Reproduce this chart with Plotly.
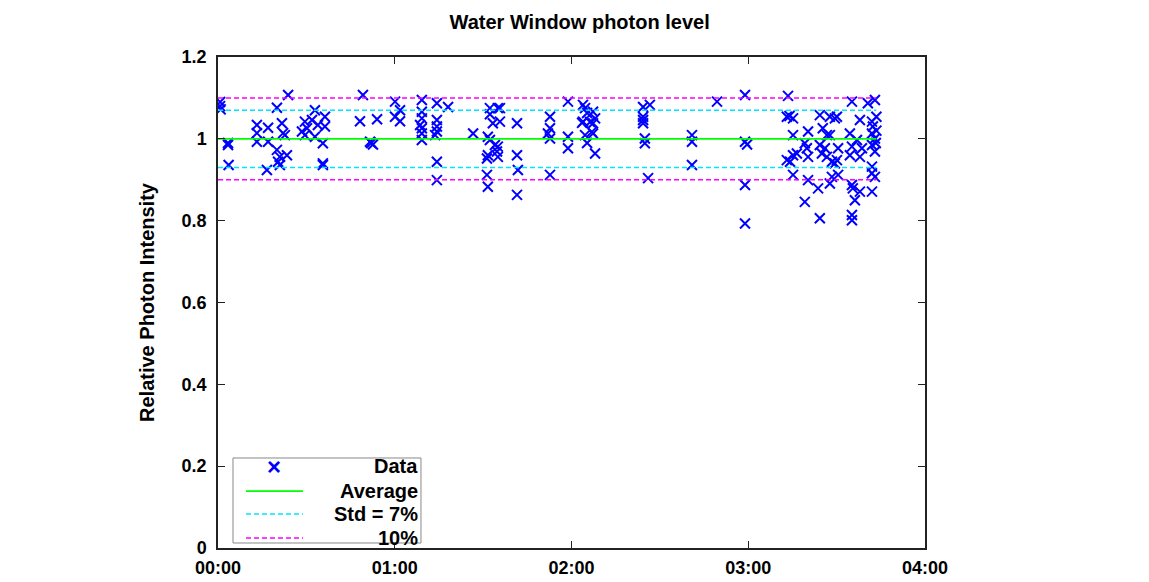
import plotly.graph_objects as go

# time in minutes since 00:00, relative photon intensity
times = [
    0.7, 0.7, 0.9, 3.4, 3.4, 3.6, 13.2, 13.2, 13.2, 17.0, 17.0, 16.6, 20.0, 20.0, 20.4,
    21.0, 21.0, 21.7, 22.1, 22.7, 23.4, 23.8, 28.5, 29.5, 29.5, 30.2, 31.9, 32.9, 32.9,
    33.9, 35.6, 35.6, 35.6, 36.3, 36.3,
    48.2, 49.2, 51.6, 52.6, 52.0, 54.0, 60.1, 60.1, 61.8, 61.8,
    69.2, 69.2, 69.2, 68.6, 69.2, 69.2, 69.2, 74.3, 78.1, 74.3, 74.3, 74.3, 73.7, 74.3, 74.3,
    86.6, 92.3, 92.3, 95.0, 95.7, 93.3, 95.7, 91.6, 92.3, 94.0, 95.0, 91.6, 91.3, 94.7, 95.0,
    91.3, 91.6, 101.5, 101.5, 101.8, 101.5, 112.7, 112.7, 112.0, 112.7, 112.7,
    118.8, 118.8, 118.8, 123.9, 124.6, 123.9, 124.6, 125.3, 127.3, 128.0, 126.3, 127.3,
    127.3, 125.3, 128.0, 123.6, 126.9,
    144.3, 146.6, 144.3, 144.3, 144.3, 144.9, 144.9, 146.0, 160.9, 160.9, 160.9, 169.4,
    178.9, 178.9, 179.6, 178.9, 178.9,
    193.1, 193.5, 193.1, 194.0, 195.2, 204.3, 207.7, 209.4, 195.2, 200.3, 205.3, 206.7, 207.7,
    199.2, 199.9, 204.3, 206.0, 195.2, 194.2, 196.5, 200.3, 205.0, 206.7, 208.4, 209.4,
    195.2, 200.3, 203.7, 207.7, 208.4, 199.2, 204.3,
    215.2, 220.6, 223.0, 210.1, 217.9, 222.0, 222.3, 214.5, 216.9, 222.0, 223.0,
    210.5, 215.2, 218.6, 222.0, 214.5, 217.9, 223.0, 210.1, 222.0, 222.0, 223.0, 210.5,
    215.2, 215.5, 217.9, 222.0, 216.2, 215.2, 215.2, 223.5, 223.5, 223.3,
]
values = [
    1.090, 1.080, 1.072, 0.990, 0.985, 0.936, 1.034, 1.014, 0.993, 1.027, 0.993, 0.924, 1.076, 0.973, 0.944,
    0.956, 0.936, 1.038, 1.014, 1.009, 0.960, 1.107, 1.018, 1.042, 1.009, 1.026, 1.046, 1.070, 1.005,
    1.034, 0.989, 0.940, 0.936, 1.054, 1.030,
    1.043, 1.107, 0.993, 0.986, 0.990, 1.048, 1.091, 1.054, 1.070, 1.043,
    1.095, 1.066, 1.050, 1.034, 1.026, 1.013, 0.997, 1.087, 1.078, 1.046, 1.030, 1.018, 1.009, 0.944, 0.899,
    1.013, 1.075, 1.060, 1.075, 1.075, 1.038, 1.042, 1.005, 0.997, 0.985, 0.981, 0.960, 0.952, 0.969, 0.956,
    0.912, 0.883, 1.038, 0.960, 0.924, 0.863, 1.054, 1.026, 1.013, 1.001, 0.912,
    1.091, 1.005, 0.977, 1.083, 1.075, 1.042, 1.009, 1.063, 1.066, 1.050, 1.041, 1.038,
    1.013, 0.990, 0.964, 1.039, 1.017,
    1.078, 1.083, 1.054, 1.046, 1.038, 1.001, 0.989, 0.904, 1.009, 0.993, 0.936, 1.091,
    1.107, 0.993, 0.986, 0.887, 0.793,
    1.054, 1.105, 0.948, 1.056, 1.050, 1.058, 1.054, 1.050, 1.009, 1.018, 1.026, 1.009, 1.009,
    0.989, 0.977, 0.985, 0.977, 0.960, 0.944, 0.964, 0.956, 0.964, 0.956, 0.944, 0.940,
    0.912, 0.899, 0.879, 0.891, 0.907, 0.846, 0.806,
    1.091, 1.087, 1.095, 1.054, 1.046, 1.042, 1.030, 1.013, 0.997, 1.013, 1.001,
    0.977, 0.981, 0.977, 0.985, 0.960, 0.956, 0.969, 0.948, 0.932, 0.916, 0.907, 0.912,
    0.887, 0.879, 0.871, 0.871, 0.850, 0.814, 0.801, 1.054, 1.020, 0.990,
]

average = 1.0
std_frac = 0.07
band_frac = 0.10
line_start = 0.0
line_end = max(times)

tick_minutes = [0, 60, 120, 180, 240]
tick_labels = ["00:00", "01:00", "02:00", "03:00", "04:00"]
y_ticks = [0, 0.2, 0.4, 0.6, 0.8, 1.0, 1.2]
y_tick_labels = ["0", "0.2", "0.4", "0.6", "0.8", "1", "1.2"]

legend_labels = ["Data", "Average", "Std = 7%", "10%"]

FONT = "Liberation Sans, Arial, sans-serif"
dash = "5px,3px"
BLUE, GREEN, CYAN, MAGENTA = "#0000ff", "#00ff00", "#00e5ff", "#ff00ff"

fig = go.Figure()
fig.add_trace(go.Scatter(
    x=times, y=values, mode="markers", name=legend_labels[0],
    marker=dict(symbol="x-thin", size=10, color=BLUE, line=dict(color=BLUE, width=2)),
))
fig.add_trace(go.Scatter(
    x=[line_start, line_end], y=[average, average], mode="lines", name=legend_labels[1],
    line=dict(color=GREEN, width=1.8),
))
for sign in (1, -1):
    fig.add_trace(go.Scatter(
        x=[line_start, line_end], y=[average + sign * std_frac] * 2, mode="lines",
        name=legend_labels[2], line=dict(color=CYAN, width=1.5, dash=dash),
    ))
for sign in (1, -1):
    fig.add_trace(go.Scatter(
        x=[line_start, line_end], y=[average + sign * band_frac] * 2, mode="lines",
        name=legend_labels[3], line=dict(color=MAGENTA, width=1.5, dash=dash),
    ))

# ---- key box (gnuplot style: sample on the left, right-aligned text) ----
key_x0, key_x1, key_y0, key_y1 = 0.0212, 0.2871, 0.0102, 0.1833
sample_x0, sample_x1 = 0.0396, 0.1202
row_y = [0.167, 0.116, 0.0692, 0.0204]
shapes = [dict(type="rect", xref="paper", yref="paper", x0=key_x0, x1=key_x1,
               y0=key_y0, y1=key_y1, line=dict(color="#888888", width=1),
               fillcolor="white", layer="above")]
sample_styles = [None, dict(color=GREEN, width=1.8),
                 dict(color=CYAN, width=1.5, dash=dash),
                 dict(color=MAGENTA, width=1.5, dash=dash)]
annotations = []
for i, lab in enumerate(legend_labels):
    annotations.append(dict(text=lab, xref="paper", yref="paper", x=key_x1 - 0.001,
                            y=row_y[i], xanchor="right", yanchor="middle", showarrow=False,
                            font=dict(family=FONT, size=20, color="black", weight="bold")))
    if sample_styles[i] is not None:
        shapes.append(dict(type="line", xref="paper", yref="paper", x0=sample_x0,
                           x1=sample_x1, y0=row_y[i], y1=row_y[i], line=sample_styles[i],
                           layer="above"))
annotations.append(dict(text="×", xref="paper", yref="paper",
                        x=(sample_x0 + sample_x1) / 2, y=row_y[0], xanchor="center",
                        yanchor="middle", showarrow=False,
                        font=dict(family=FONT, size=24, color=BLUE, weight="bold")))

axis_common = dict(
    showgrid=False, zeroline=False, showline=True, linecolor="#222222", linewidth=1.5,
    mirror="allticks", ticks="inside", ticklen=7, tickcolor="#222222", tickwidth=1.2,
    automargin=False,
    tickfont=dict(family=FONT, size=18, color="black", weight="bold"),
)

fig.update_layout(
    width=1149, height=582,
    margin=dict(l=210, r=232, t=49, b=42),
    paper_bgcolor="white", plot_bgcolor="white",
    showlegend=False,
    shapes=shapes, annotations=annotations,
    title=dict(text="Water Window photon level", x=0.4975, xanchor="center",
               y=1 - 14 / 582, yanchor="middle", yref="container",
               font=dict(family=FONT, size=20, color="black", weight="bold")),
    xaxis=dict(range=[0, 240], tickvals=tick_minutes, ticktext=tick_labels,
               ticklabelstandoff=3, **axis_common),
    yaxis=dict(range=[0, 1.2], tickvals=y_ticks, ticktext=y_tick_labels,
               ticklabelstandoff=6,
               title=dict(text="Relative Photon Intensity", standoff=22,
                          font=dict(family=FONT, size=20, color="black", weight="bold")),
               **axis_common),
)

fig.write_html("out.html")
